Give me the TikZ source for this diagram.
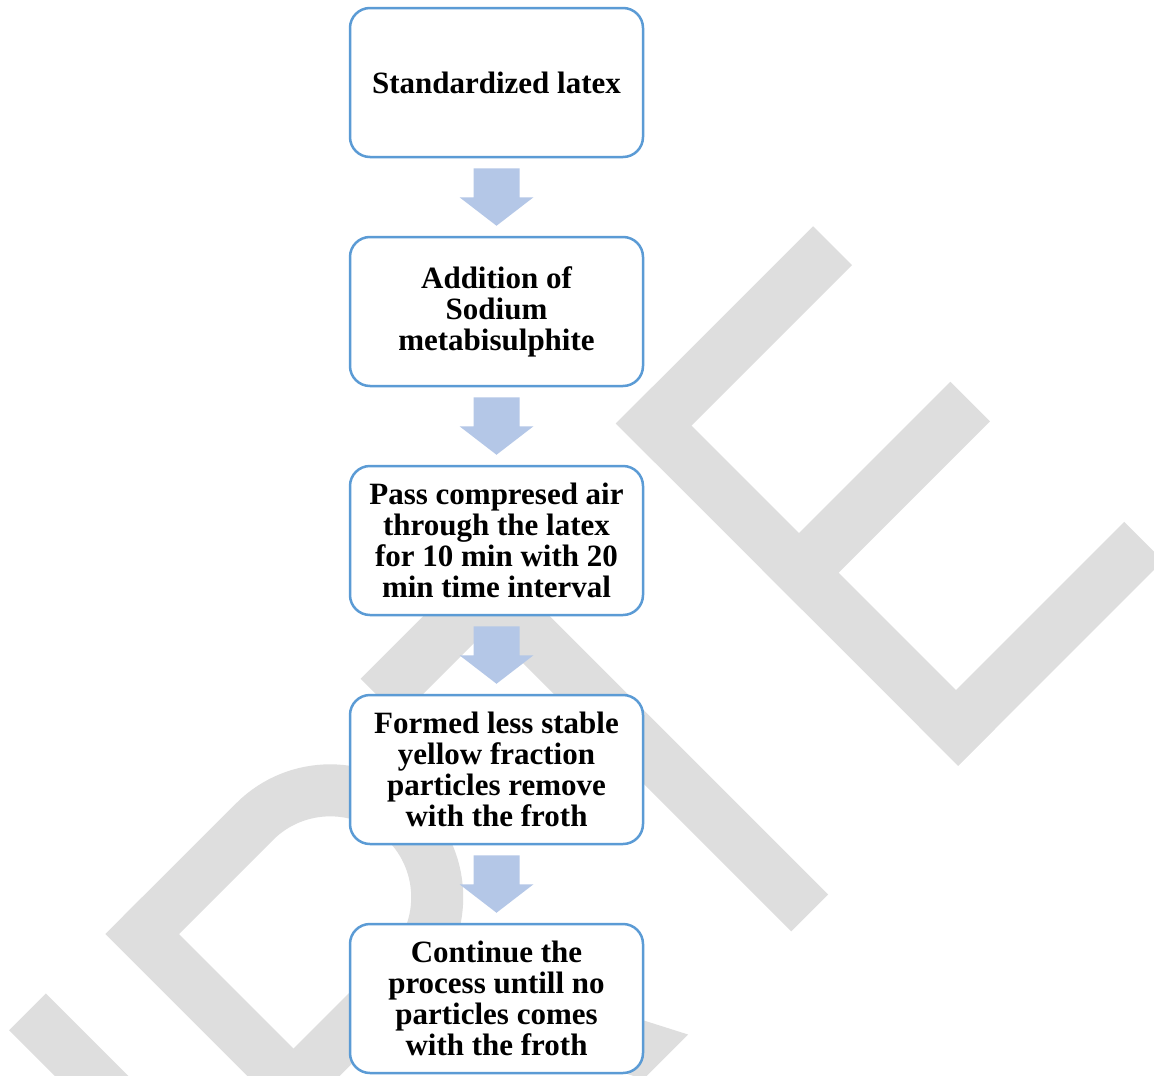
\documentclass[tikz,border=0pt]{standalone}
\usepackage{fontspec}
\setmainfont{Liberation Serif}
\usetikzlibrary{positioning,calc}
\definecolor{boxblue}{RGB}{91,155,213}
\definecolor{arrowblue}{RGB}{180,199,231}
\definecolor{markgrey}{RGB}{222,222,222}

\begin{document}
\begin{tikzpicture}[x=1pt, y=1pt, node distance=77.5pt]
    % Define styles
    \tikzstyle{stepbox} = [rectangle, rounded corners=20pt, minimum width=293pt, minimum height=149pt, align=center, draw=boxblue, line width=2.5pt, fill=white, font=\bfseries\fontsize{31}{31}\selectfont]
    \tikzstyle{blockarrow} = [fill=arrowblue]
    \tikzstyle{markfill} = [fill=markgrey]
    \tikzstyle{markline} = [draw=markgrey, line width=52pt]

    % Page
    \fill[white] (0,0) rectangle (1154,-1076);
    \useasboundingbox (0,0) rectangle (1154,-1076);

    % Watermark letters, drawn in the letter frame
    \begin{scope}[rotate=45]
        \fill[markfill] (-722,-1300) rectangle (-670,-735);
        % R
        \fill[markfill] (-586,-1300) rectangle (-534,-735);
        \draw[markline] (-560,-761) -- (-401,-761) arc[start angle=90, end angle=-90, radius=107] -- (-560,-975);
        \fill[markfill] (-435,-975) -- (-371,-975) -- (-245,-1218) -- (-308,-1218) -- cycle;
        % T
        \fill[markfill] (-225,-790) rectangle (55,-735);
        \fill[markfill] (-99,-1218) rectangle (-47,-735);
        % E
        \fill[markfill] (136,-1219) rectangle (188,-735);
        \fill[markfill] (136,-790) rectangle (415,-735);
        \fill[markfill] (136,-998) rectangle (402,-942);
        \fill[markfill] (136,-1219) rectangle (426,-1164);
    \end{scope}

    % Nodes
    \node [stepbox] (latex) at (496.5,-82.5) {Standardized latex};
    \node [stepbox, below=of latex] (sodium) {Addition of\\Sodium\\metabisulphite};
    \node [stepbox, below=of sodium] (air) {Pass compresed air\\through the latex\\for 10 min with 20\\min time interval};
    \node [stepbox, below=of air] (yellow) {Formed less stable\\yellow fraction\\particles remove\\with the froth};
    \node [stepbox, below=of yellow] (process) {Continue the\\process untill no\\particles comes\\with the froth};

    % Arrows
    \foreach \from/\to in {latex/sodium, sodium/air, air/yellow, yellow/process}
        \fill[blockarrow] ($(\from.south)+(-23,-10)$) -- ($(\from.south)+(23,-10)$) -- ($(\from.south)+(23,-39)$) -- ($(\from.south)+(37,-39)$) -- ($(\to.north)+(0,10)$) -- ($(\from.south)+(-37,-39)$) -- ($(\from.south)+(-23,-39)$) -- cycle;
\end{tikzpicture}
\end{document}
